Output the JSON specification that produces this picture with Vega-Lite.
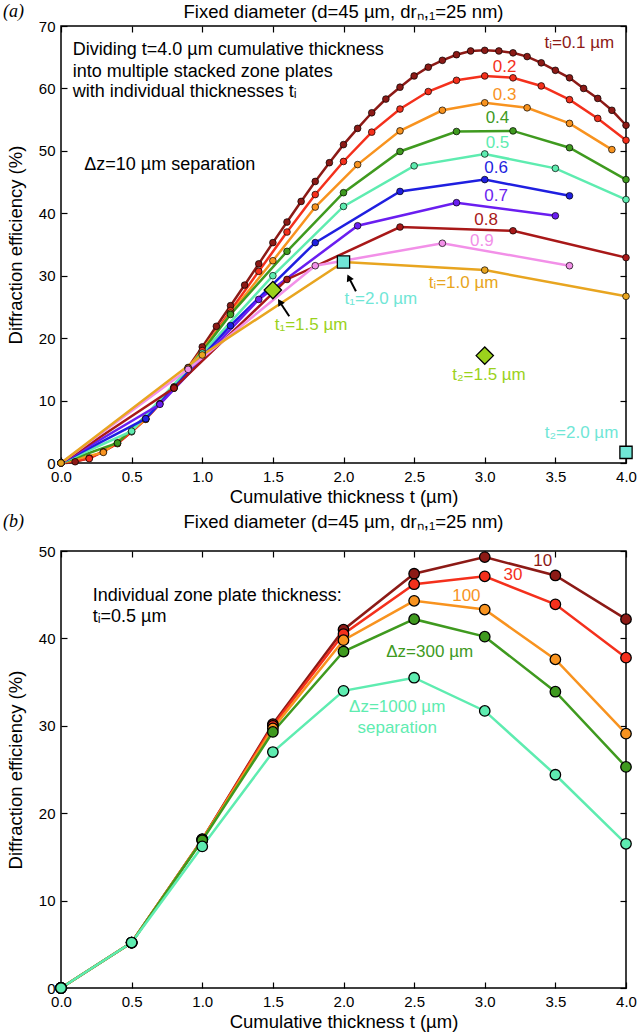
{
"$schema": "https://vega.github.io/schema/vega-lite/v6.json",
"background": "white",
"padding": {"left": 2, "top": 2, "right": 2, "bottom": 2},
"spacing": 5,
"resolve": {"scale": {"color": "independent", "x": "independent", "y": "independent"}},
"datasets": {
"a": [
{"s":"0.1","t":0,"e":0},{"s":"0.1","t":0.1,"e":0.2},{"s":"0.1","t":0.2,"e":0.8},{"s":"0.1","t":0.3,"e":1.8},{"s":"0.1","t":0.4,"e":3.2},{"s":"0.1","t":0.5,"e":5.0},{"s":"0.1","t":0.6,"e":7.1},{"s":"0.1","t":0.7,"e":9.5},{"s":"0.1","t":0.8,"e":12.2},{"s":"0.1","t":0.9,"e":15.3},{"s":"0.1","t":1.0,"e":18.6},{"s":"0.1","t":1.1,"e":21.9},{"s":"0.1","t":1.2,"e":25.2},{"s":"0.1","t":1.3,"e":28.5},{"s":"0.1","t":1.4,"e":31.9},{"s":"0.1","t":1.5,"e":35.3},{"s":"0.1","t":1.6,"e":38.6},{"s":"0.1","t":1.7,"e":41.9},{"s":"0.1","t":1.8,"e":45.1},{"s":"0.1","t":1.9,"e":48.1},{"s":"0.1","t":2.0,"e":51.0},{"s":"0.1","t":2.1,"e":53.6},{"s":"0.1","t":2.2,"e":56.1},{"s":"0.1","t":2.3,"e":58.3},{"s":"0.1","t":2.4,"e":60.2},{"s":"0.1","t":2.5,"e":62.0},{"s":"0.1","t":2.6,"e":63.4},{"s":"0.1","t":2.7,"e":64.5},{"s":"0.1","t":2.8,"e":65.4},{"s":"0.1","t":2.9,"e":66.0},{"s":"0.1","t":3.0,"e":66.1},{"s":"0.1","t":3.1,"e":66.0},{"s":"0.1","t":3.2,"e":65.7},{"s":"0.1","t":3.3,"e":65.1},{"s":"0.1","t":3.4,"e":64.1},{"s":"0.1","t":3.5,"e":62.9},{"s":"0.1","t":3.6,"e":61.7},{"s":"0.1","t":3.7,"e":60.0},{"s":"0.1","t":3.8,"e":58.4},{"s":"0.1","t":3.9,"e":56.5},{"s":"0.1","t":4.0,"e":54.1},
{"s":"0.2","t":0,"e":0},{"s":"0.2","t":0.2,"e":0.7},{"s":"0.2","t":0.4,"e":3.1},{"s":"0.2","t":0.6,"e":7.0},{"s":"0.2","t":0.8,"e":12.0},{"s":"0.2","t":1.0,"e":18.0},{"s":"0.2","t":1.2,"e":24.4},{"s":"0.2","t":1.4,"e":30.7},{"s":"0.2","t":1.6,"e":37.0},{"s":"0.2","t":1.8,"e":43.0},{"s":"0.2","t":2.0,"e":48.3},{"s":"0.2","t":2.2,"e":53.0},{"s":"0.2","t":2.4,"e":56.7},{"s":"0.2","t":2.6,"e":59.5},{"s":"0.2","t":2.8,"e":61.3},{"s":"0.2","t":3.0,"e":62.0},{"s":"0.2","t":3.2,"e":61.7},{"s":"0.2","t":3.4,"e":60.4},{"s":"0.2","t":3.6,"e":58.2},{"s":"0.2","t":3.8,"e":55.2},{"s":"0.2","t":4.0,"e":51.7},
{"s":"0.3","t":0,"e":0},{"s":"0.3","t":0.3,"e":1.7},{"s":"0.3","t":0.6,"e":7.0},{"s":"0.3","t":0.9,"e":15.2},{"s":"0.3","t":1.2,"e":24.0},{"s":"0.3","t":1.5,"e":32.4},{"s":"0.3","t":1.8,"e":41.0},{"s":"0.3","t":2.1,"e":47.8},{"s":"0.3","t":2.4,"e":53.2},{"s":"0.3","t":2.7,"e":56.5},{"s":"0.3","t":3.0,"e":57.7},{"s":"0.3","t":3.3,"e":56.9},{"s":"0.3","t":3.6,"e":54.4},{"s":"0.3","t":3.9,"e":50.2},
{"s":"0.4","t":0,"e":0},{"s":"0.4","t":0.4,"e":3.2},{"s":"0.4","t":0.8,"e":12.0},{"s":"0.4","t":1.2,"e":23.8},{"s":"0.4","t":1.6,"e":33.9},{"s":"0.4","t":2.0,"e":43.3},{"s":"0.4","t":2.4,"e":49.9},{"s":"0.4","t":2.8,"e":53.1},{"s":"0.4","t":3.2,"e":53.2},{"s":"0.4","t":3.6,"e":50.5},{"s":"0.4","t":4.0,"e":45.4},
{"s":"0.5","t":0,"e":0},{"s":"0.5","t":0.5,"e":5.1},{"s":"0.5","t":1.0,"e":17.6},{"s":"0.5","t":1.5,"e":30.0},{"s":"0.5","t":2.0,"e":41.1},{"s":"0.5","t":2.5,"e":47.6},{"s":"0.5","t":3.0,"e":49.5},{"s":"0.5","t":3.5,"e":47.2},{"s":"0.5","t":4.0,"e":42.2},
{"s":"0.6","t":0,"e":0},{"s":"0.6","t":0.6,"e":7.1},{"s":"0.6","t":1.2,"e":22.0},{"s":"0.6","t":1.8,"e":35.3},{"s":"0.6","t":2.4,"e":43.5},{"s":"0.6","t":3.0,"e":45.4},{"s":"0.6","t":3.6,"e":42.8},
{"s":"0.7","t":0,"e":0},{"s":"0.7","t":0.7,"e":9.4},{"s":"0.7","t":1.4,"e":26.2},{"s":"0.7","t":2.1,"e":38.0},{"s":"0.7","t":2.8,"e":41.7},{"s":"0.7","t":3.5,"e":39.6},
{"s":"0.8","t":0,"e":0},{"s":"0.8","t":0.8,"e":12.0},{"s":"0.8","t":1.6,"e":29.4},{"s":"0.8","t":2.4,"e":37.8},{"s":"0.8","t":3.2,"e":37.2},{"s":"0.8","t":4.0,"e":32.9},
{"s":"0.9","t":0,"e":0},{"s":"0.9","t":0.9,"e":15.0},{"s":"0.9","t":1.8,"e":31.6},{"s":"0.9","t":2.7,"e":35.2},{"s":"0.9","t":3.6,"e":31.6},
{"s":"1.0","t":0,"e":0},{"s":"1.0","t":1.0,"e":17.3},{"s":"1.0","t":2.0,"e":32.2},{"s":"1.0","t":3.0,"e":30.9},{"s":"1.0","t":4.0,"e":26.7}
],
"diam": [{"s":"dia","t":1.5,"e":27.7},{"s":"dia","t":3.0,"e":17.2}],
"sq": [{"s":"sq","t":2.0,"e":32.2},{"s":"sq","t":4.0,"e":1.7}],
"arr": [{"k":1,"t":1.616,"e":23.5,"t2":1.549,"e2":25.8},{"k":2,"t":2.088,"e":27.5,"t2":2.038,"e2":29.7}],
"alab": [
{"t":3.67,"e":67.2,"label":"tᵢ=0.1 µm","s":"0.1"},
{"t":3.14,"e":63.5,"label":"0.2","s":"0.2"},
{"t":3.14,"e":58.9,"label":"0.3","s":"0.3"},
{"t":3.09,"e":55.2,"label":"0.4","s":"0.4"},
{"t":3.09,"e":51.3,"label":"0.5","s":"0.5"},
{"t":3.08,"e":47.2,"label":"0.6","s":"0.6"},
{"t":3.08,"e":42.7,"label":"0.7","s":"0.7"},
{"t":3.01,"e":39.0,"label":"0.8","s":"0.8"},
{"t":2.98,"e":35.6,"label":"0.9","s":"0.9"},
{"t":2.85,"e":28.8,"label":"tᵢ=1.0 µm","s":"1.0"},
{"t":2.265,"e":26.2,"label":"t₁=2.0 µm","s":"sq"},
{"t":1.77,"e":22.1,"label":"t₁=1.5 µm","s":"dia"},
{"t":3.03,"e":14.1,"label":"t₂=1.5 µm","s":"dia"},
{"t":3.685,"e":4.8,"label":"t₂=2.0 µm","s":"sq"}
],
"anote": [
{"t":0.083,"e":66.1,"label":"Dividing t=4.0 µm cumulative thickness"},
{"t":0.083,"e":62.7,"label":"into multiple stacked zone plates"},
{"t":0.083,"e":59.5,"label":"with individual thicknesses tᵢ"},
{"t":0.165,"e":47.7,"label":"Δz=10 µm separation"}
],
"b": [
{"s":"10","t":0,"e":0},{"s":"10","t":0.5,"e":5.2},{"s":"10","t":1.0,"e":17.0},{"s":"10","t":1.5,"e":30.2},{"s":"10","t":2.0,"e":41.0},{"s":"10","t":2.5,"e":47.4},{"s":"10","t":3.0,"e":49.3},{"s":"10","t":3.5,"e":47.2},{"s":"10","t":4.0,"e":42.2},
{"s":"30","t":0,"e":0},{"s":"30","t":0.5,"e":5.2},{"s":"30","t":1.0,"e":17.0},{"s":"30","t":1.5,"e":30.0},{"s":"30","t":2.0,"e":40.5},{"s":"30","t":2.5,"e":46.2},{"s":"30","t":3.0,"e":47.1},{"s":"30","t":3.5,"e":43.9},{"s":"30","t":4.0,"e":37.8},
{"s":"100","t":0,"e":0},{"s":"100","t":0.5,"e":5.2},{"s":"100","t":1.0,"e":17.0},{"s":"100","t":1.5,"e":29.7},{"s":"100","t":2.0,"e":39.8},{"s":"100","t":2.5,"e":44.3},{"s":"100","t":3.0,"e":43.3},{"s":"100","t":3.5,"e":37.6},{"s":"100","t":4.0,"e":29.1},
{"s":"300","t":0,"e":0},{"s":"300","t":0.5,"e":5.2},{"s":"300","t":1.0,"e":16.9},{"s":"300","t":1.5,"e":29.3},{"s":"300","t":2.0,"e":38.5},{"s":"300","t":2.5,"e":42.2},{"s":"300","t":3.0,"e":40.2},{"s":"300","t":3.5,"e":33.9},{"s":"300","t":4.0,"e":25.3},
{"s":"1000","t":0,"e":0},{"s":"1000","t":0.5,"e":5.2},{"s":"1000","t":1.0,"e":16.2},{"s":"1000","t":1.5,"e":27.0},{"s":"1000","t":2.0,"e":34.0},{"s":"1000","t":2.5,"e":35.5},{"s":"1000","t":3.0,"e":31.7},{"s":"1000","t":3.5,"e":24.4},{"s":"1000","t":4.0,"e":16.5}
],
"blab": [
{"t":3.41,"e":48.9,"label":"10","s":"10"},
{"t":3.20,"e":47.3,"label":"30","s":"30"},
{"t":2.87,"e":44.8,"label":"100","s":"100"},
{"t":2.61,"e":38.5,"label":"Δz=300 µm","s":"300"},
{"t":2.38,"e":32.2,"label":"Δz=1000 µm","s":"1000"},
{"t":2.38,"e":29.8,"label":"separation","s":"1000"}
],
"bnote": [
{"t":0.224,"e":44.8,"label":"Individual zone plate thickness:"},
{"t":0.224,"e":42.5,"label":"tᵢ=0.5 µm"}
],
"tagA": [{"t":-0.41,"e":72.2,"label":"(a)"}],
"tagB": [{"t":-0.41,"e":53.3,"label":"(b)"}],
"titA": [{"t":2.0,"e":72.2,"label":"Fixed diameter (d=45 µm, drₙ,₁=25 nm)"}],
"titB": [{"t":2.0,"e":53.3,"label":"Fixed diameter (d=45 µm, drₙ,₁=25 nm)"}]
},
"vconcat": [
{
"width": 565, "height": 437,
"resolve": {"axis": {"x": "independent", "y": "independent"}},
"layer": [
{"data": {"name": "a"}, "mark": {"type": "line", "strokeWidth": 2.5},
 "encoding": {
  "x": {"field": "t", "type": "quantitative", "scale": {"domain": [0, 4], "nice": false}, "axis": {"orient": "bottom", "values": [0,0.5,1,1.5,2,2.5,3,3.5,4], "format": ".1f", "title": "Cumulative thickness t (µm)"}},
  "y": {"field": "e", "type": "quantitative", "scale": {"domain": [0, 70], "nice": false}, "axis": {"orient": "left", "values": [0,10,20,30,40,50,60,70], "format": "d", "title": "Diffraction efficiency (%)"}},
  "color": {"field": "s", "type": "nominal", "legend": null, "scale": {"domain": ["0.1","0.2","0.3","0.4","0.5","0.6","0.7","0.8","0.9","1.0","dia","sq"], "range": ["#8c1a16","#f4301c","#f8931f","#3f9a1f","#5eecb0","#1f1fe0","#6a1ef0","#a81818","#f290e8","#e8a520","#9bd21c","#70e6d6"]}}
 }},
{"data": {"name": "a"}, "mark": {"type": "circle", "size": 45, "stroke": "black", "strokeWidth": 0.7, "opacity": 1},
 "encoding": {
  "x": {"field": "t", "type": "quantitative", "axis": {"orient": "top", "values": [0,0.5,1,1.5,2,2.5,3,3.5,4], "labels": false, "title": null}},
  "y": {"field": "e", "type": "quantitative", "axis": {"orient": "right", "values": [0,10,20,30,40,50,60,70], "labels": false, "title": null}},
  "color": {"field": "s", "type": "nominal", "legend": null}
 }},
{"data": {"name": "arr"}, "mark": {"type": "rule", "color": "black", "strokeWidth": 2},
 "encoding": {"x": {"field": "t", "type": "quantitative", "axis": null}, "y": {"field": "e", "type": "quantitative", "axis": null}, "x2": {"field": "t2"}, "y2": {"field": "e2"}}},
{"data": {"name": "arr"}, "transform": [{"filter": "datum.k == 1"}], "mark": {"type": "point", "shape": "triangle-up", "filled": true, "color": "black", "size": 60, "angle": 328, "opacity": 1},
 "encoding": {"x": {"field": "t2", "type": "quantitative", "axis": null}, "y": {"field": "e2", "type": "quantitative", "axis": null}}},
{"data": {"name": "arr"}, "transform": [{"filter": "datum.k == 2"}], "mark": {"type": "point", "shape": "triangle-up", "filled": true, "color": "black", "size": 60, "angle": 334, "opacity": 1},
 "encoding": {"x": {"field": "t2", "type": "quantitative", "axis": null}, "y": {"field": "e2", "type": "quantitative", "axis": null}}},
{"data": {"name": "diam"}, "mark": {"type": "point", "shape": "diamond", "filled": true, "size": 300, "stroke": "black", "strokeWidth": 1.3, "opacity": 1},
 "encoding": {"x": {"field": "t", "type": "quantitative", "axis": null}, "y": {"field": "e", "type": "quantitative", "axis": null}, "color": {"field": "s", "type": "nominal", "legend": null}}},
{"data": {"name": "sq"}, "mark": {"type": "point", "shape": "square", "filled": true, "size": 150, "stroke": "black", "strokeWidth": 1.3, "opacity": 1},
 "encoding": {"x": {"field": "t", "type": "quantitative", "axis": null}, "y": {"field": "e", "type": "quantitative", "axis": null}, "color": {"field": "s", "type": "nominal", "legend": null}}},
{"data": {"name": "alab"}, "mark": {"type": "text", "fontSize": 17, "align": "center", "baseline": "middle"},
 "encoding": {"x": {"field": "t", "type": "quantitative", "axis": null}, "y": {"field": "e", "type": "quantitative", "axis": null}, "text": {"field": "label"}, "color": {"field": "s", "type": "nominal", "legend": null}}},
{"data": {"name": "anote"}, "mark": {"type": "text", "fontSize": 18, "align": "left", "baseline": "middle", "color": "black"},
 "encoding": {"x": {"field": "t", "type": "quantitative", "axis": null}, "y": {"field": "e", "type": "quantitative", "axis": null}, "text": {"field": "label"}}},
{"data": {"name": "titA"}, "mark": {"type": "text", "fontSize": 18.5, "align": "center", "baseline": "middle", "color": "black"},
 "encoding": {"x": {"field": "t", "type": "quantitative", "axis": null}, "y": {"field": "e", "type": "quantitative", "axis": null}, "text": {"field": "label"}}},
{"data": {"name": "tagA"}, "mark": {"type": "text", "fontSize": 18, "font": "Liberation Serif", "fontStyle": "italic", "align": "left", "baseline": "middle", "color": "black"},
 "encoding": {"x": {"field": "t", "type": "quantitative", "axis": null}, "y": {"field": "e", "type": "quantitative", "axis": null}, "text": {"field": "label"}}}
]
},
{
"width": 565, "height": 437,
"resolve": {"axis": {"x": "independent", "y": "independent"}},
"layer": [
{"data": {"name": "b"}, "mark": {"type": "line", "strokeWidth": 2.5},
 "encoding": {
  "x": {"field": "t", "type": "quantitative", "scale": {"domain": [0, 4], "nice": false}, "axis": {"orient": "bottom", "values": [0,0.5,1,1.5,2,2.5,3,3.5,4], "format": ".1f", "title": "Cumulative thickness t (µm)"}},
  "y": {"field": "e", "type": "quantitative", "scale": {"domain": [0, 50], "nice": false}, "axis": {"orient": "left", "values": [0,10,20,30,40,50], "format": "d", "title": "Diffraction efficiency (%)"}},
  "color": {"field": "s", "type": "nominal", "legend": null, "scale": {"domain": ["10","30","100","300","1000"], "range": ["#8c1a16","#f4301c","#f8931f","#3f9a1f","#5eecb0"]}}
 }},
{"data": {"name": "b"}, "mark": {"type": "circle", "size": 110, "stroke": "black", "strokeWidth": 1.3, "opacity": 1},
 "encoding": {
  "x": {"field": "t", "type": "quantitative", "axis": {"orient": "top", "values": [0,0.5,1,1.5,2,2.5,3,3.5,4], "labels": false, "title": null}},
  "y": {"field": "e", "type": "quantitative", "axis": {"orient": "right", "values": [0,10,20,30,40,50], "labels": false, "title": null}},
  "color": {"field": "s", "type": "nominal", "legend": null}
 }},
{"data": {"name": "blab"}, "mark": {"type": "text", "fontSize": 17, "align": "center", "baseline": "middle"},
 "encoding": {"x": {"field": "t", "type": "quantitative", "axis": null}, "y": {"field": "e", "type": "quantitative", "axis": null}, "text": {"field": "label"}, "color": {"field": "s", "type": "nominal", "legend": null}}},
{"data": {"name": "bnote"}, "mark": {"type": "text", "fontSize": 18, "align": "left", "baseline": "middle", "color": "black"},
 "encoding": {"x": {"field": "t", "type": "quantitative", "axis": null}, "y": {"field": "e", "type": "quantitative", "axis": null}, "text": {"field": "label"}}},
{"data": {"name": "titB"}, "mark": {"type": "text", "fontSize": 18.5, "align": "center", "baseline": "middle", "color": "black"},
 "encoding": {"x": {"field": "t", "type": "quantitative", "axis": null}, "y": {"field": "e", "type": "quantitative", "axis": null}, "text": {"field": "label"}}},
{"data": {"name": "tagB"}, "mark": {"type": "text", "fontSize": 18, "font": "Liberation Serif", "fontStyle": "italic", "align": "left", "baseline": "middle", "color": "black"},
 "encoding": {"x": {"field": "t", "type": "quantitative", "axis": null}, "y": {"field": "e", "type": "quantitative", "axis": null}, "text": {"field": "label"}}}
]
}
],
"config": {
 "font": "Liberation Sans",
 "view": {"stroke": "black", "strokeWidth": 1.5},
 "axis": {"grid": false, "domain": false, "tickColor": "black", "tickSize": -6, "tickWidth": 1.2, "labelFont": "Liberation Sans", "labelFontSize": 15, "labelColor": "black", "labelPadding": 12, "labelFlush": false, "titleFont": "Liberation Sans", "titleFontSize": 18.5, "titleFontWeight": "normal", "titleColor": "black"},
 "axisX": {"titlePadding": 3},
 "axisY": {"titlePadding": 13}
}
}
